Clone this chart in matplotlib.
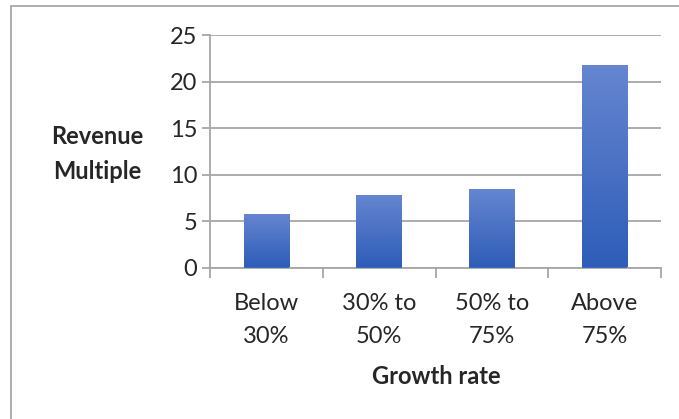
import numpy as np
import matplotlib
matplotlib.use("Agg")
import matplotlib.pyplot as plt
from matplotlib.colors import LinearSegmentedColormap
from matplotlib.patches import Rectangle

plt.rcParams["font.family"] = ["Lato", "DejaVu Sans"]

categories = ["Below\n30%", "30% to\n50%", "50% to\n75%", "Above\n75%"]
values = [5.75, 7.8, 8.45, 21.85]
y_ticks = [0, 5, 10, 15, 20, 25]

GRID = "#a6a6a6"
TEXT = "#262626"
FS = 17

fig = plt.figure(figsize=(6.79, 4.19), dpi=100)
fig.patches.append(Rectangle((11 / 679, -0.1), 1.2, (419 - 6.5) / 419 + 0.1,
                             transform=fig.transFigure, fill=False,
                             edgecolor="#a0a0a0", linewidth=1.2))

ax = fig.add_axes([210 / 679, (419 - 267.5) / 419, 451 / 679, 232 / 419])

x = np.arange(len(categories))
bars = ax.bar(x, values, width=0.405, color="#3f6bc4", zorder=3)

# vertical gradient on each bar
cmap = LinearSegmentedColormap.from_list("bar", ["#2e5db8", "#6686d0"])
grad = np.linspace(0, 1, 256).reshape(-1, 1)
for b in bars:
    x0, w, h = b.get_x(), b.get_width(), b.get_height()
    im = ax.imshow(grad, cmap=cmap, origin="lower", aspect="auto",
                   extent=[x0, x0 + w, 0, h], zorder=4)
    im.set_clip_path(b)

ax.set_xlim(-0.5, 3.5)
ax.set_ylim(0, 25)
ax.set_yticks(y_ticks)
ax.set_yticklabels([str(t) for t in y_ticks], fontsize=FS, color=TEXT)
ax.set_xticks(x)
ax.set_xticklabels(categories, fontsize=FS, color=TEXT, linespacing=1.75)
ax.set_xticks(np.arange(-0.5, 4.0, 1.0), minor=True)
ax.tick_params(axis="x", which="major", length=0, pad=18)
ax.tick_params(axis="x", which="minor", length=7, color=GRID, width=1.3)
ax.tick_params(axis="y", length=6, color=GRID, width=1.3, pad=3)

ax.grid(axis="y", color=GRID, linewidth=1.3, zorder=0)
ax.set_axisbelow(True)
for s in ["top", "right"]:
    ax.spines[s].set_visible(False)
for s in ["left", "bottom"]:
    ax.spines[s].set_color(GRID)
    ax.spines[s].set_linewidth(1.3)

fig.text(97 / 679, 1 - 154 / 419, "Revenue\nMultiple", ha="center", va="center",
         fontsize=FS, fontweight="bold", color=TEXT, linespacing=1.6)
fig.text(436 / 679, 1 - 376 / 419, "Growth rate", ha="center", va="center",
         fontsize=FS, fontweight="bold", color=TEXT)

fig.savefig("out.png", dpi=100, facecolor="white")
